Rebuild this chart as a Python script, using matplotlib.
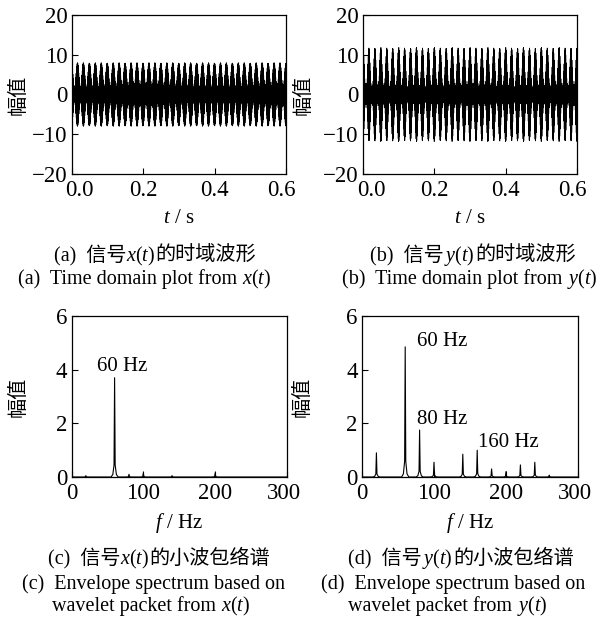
import numpy as np
import matplotlib
matplotlib.use('Agg')
import matplotlib.pyplot as plt
from matplotlib.offsetbox import TextArea, HPacker, AnnotationBbox
from matplotlib.transforms import ScaledTranslation

# 字体设置
plt.rcParams['font.family'] = ['Liberation Serif', 'Noto Sans CJK SC']
plt.rcParams['mathtext.fontset'] = 'custom'
plt.rcParams['mathtext.rm'] = 'Liberation Serif'
plt.rcParams['mathtext.it'] = 'Liberation Serif:italic'
plt.rcParams['font.size'] = 15
plt.rcParams['xtick.direction'] = 'in'
plt.rcParams['ytick.direction'] = 'in'

# 时域信号参数 (包络调制频率 / 幅值 / 尖锐度)
fs = 20000
t_end = 0.6
carrier_hz = 1100
x_base = 1.5
x_mod_hz = [60]
x_mod_amp = [6.5]
x_mod_pow = [1.0]
y_base = 1.8
y_mod_hz = [60, 20]
y_mod_amp = [9.8, 0.4]
y_mod_pow = [1.8, 1.0]

# 包络谱峰值 (频率 Hz, 幅值)
x_peak_hz = [20, 60, 80, 100, 140, 200]
x_peak_amp = [0.05, 3.7, 0.1, 0.15, 0.05, 0.15]
y_peak_hz = [20, 60, 80, 100, 140, 160, 180, 200, 220, 240, 260]
y_peak_amp = [0.9, 4.85, 1.75, 0.55, 0.85, 1.0, 0.3, 0.2, 0.45, 0.55, 0.07]

x_labels = [('60 Hz', 70, 4.1)]
y_labels = [('60 Hz', 111, 5.05), ('80 Hz', 111, 2.13), ('160 Hz', 203, 1.28)]

t = np.arange(0, t_end, 1 / fs)


def signal(base, mod_hz, mod_amp, mod_pow):
    env = np.full_like(t, base)
    for f, a, p in zip(mod_hz, mod_amp, mod_pow):
        env += a * ((1 + np.cos(2 * np.pi * f * t)) / 2) ** p
    return env * np.sin(2 * np.pi * carrier_hz * t)


def spectrum(peak_hz, peak_amp):
    fx, fy = [0], [0]
    for f, a in zip(peak_hz, peak_amp):
        fx += [f - 5, f - 2.5, f - 0.8, f, f + 0.8, f + 2.5, f + 5]
        fy += [0, a * 0.025, a * 0.12, a, a * 0.12, a * 0.025, 0]
    fx.append(300)
    fy.append(0)
    return fx, fy


fig = plt.figure(figsize=(6, 6.17), dpi=100)
W, H = 600, 617


def make_ax(l, top, r, bot):
    return fig.add_axes([l / W, 1 - bot / H, (r - l) / W, (bot - top) / H])


def nudge(label, dx_px):
    label.set_transform(label.get_transform() + ScaledTranslation(dx_px / 100, 0, fig.dpi_scale_trans))


ax_a = make_ax(71.5, 15, 286, 174)
ax_b = make_ax(363, 15, 577, 174)
ax_c = make_ax(71.5, 316, 287, 477)
ax_d = make_ax(362, 316, 578, 477)

ax_a.plot(t, signal(x_base, x_mod_hz, x_mod_amp, x_mod_pow), color='black', lw=0.6)
ax_b.plot(t, signal(y_base, y_mod_hz, y_mod_amp, y_mod_pow), color='black', lw=0.6)
for ax in (ax_a, ax_b):
    ax.set_xlim(0, 0.6)
    ax.set_ylim(-20, 20)
    ax.set_xticks([0, 0.2, 0.4, 0.6])
    ax.set_xticklabels(['0.0', '0.2', '0.4', '0.6'])
    ax.set_yticks([-20, -10, 0, 10, 20])
    ax.set_yticklabels(['\u221220', '\u221210', '0', '10', '20'])
    ax.set_xlabel('$t$ / s')
    ax.xaxis.set_label_coords(0.5, -0.22)

fx, fy = spectrum(x_peak_hz, x_peak_amp)
ax_c.plot(fx, fy, color='black', lw=0.8)
fx, fy = spectrum(y_peak_hz, y_peak_amp)
ax_d.plot(fx, fy, color='black', lw=0.8)
for ax, labels in ((ax_c, x_labels), (ax_d, y_labels)):
    ax.set_xlim(0, 300)
    ax.set_ylim(0, 6)
    ax.set_xticks([0, 100, 200, 300])
    ax.set_yticks([0, 2, 4, 6])
    ax.set_xlabel('$f$ / Hz')
    ax.xaxis.set_label_coords(0.5, -0.21)
    for s, xx, yy in labels:
        ax.text(xx, yy, s, ha='center', va='center', fontsize=15)

for ax in (ax_a, ax_b, ax_c, ax_d):
    ax.tick_params(top=False, right=False, length=4, width=0.8, labelsize=16.5)
    ax.tick_params(axis='x', pad=4)
    ax.tick_params(axis='y', pad=3)
    for sp in ax.spines.values():
        sp.set_linewidth(0.9)
    ax.set_ylabel('幅值', fontsize=14.5)

# 首末刻度标签略向内偏移
for ax in (ax_a, ax_b):
    labels = ax.get_xticklabels()
    nudge(labels[0], 8)
    nudge(labels[-1], -5)
for ax in (ax_c, ax_d):
    nudge(ax.get_xticklabels()[-1], -3)

ax_a.yaxis.set_label_coords(-0.2, 0.5)
ax_c.yaxis.set_label_coords(-0.2, 0.5)
ax_b.yaxis.set_label_coords(-0.23, 0.5)
ax_d.yaxis.set_label_coords(-0.23, 0.5)


def caption(parts, cx, cy):
    boxes = [TextArea(p, textprops=dict(fontsize=14.5)) for p in parts]
    pack = HPacker(children=boxes, align='baseline', pad=0, sep=0)
    ab = AnnotationBbox(pack, (cx / W, 1 - cy / H), xycoords='figure fraction',
                        frameon=False, box_alignment=(0.5, 0.5), pad=0)
    fig.add_artist(ab)


caption(['(a)  信号', '$x(t)$', '的时域波形'], 155, 256)
caption(['(a)  Time domain plot from ', '$x(t)$'], 145, 279)
caption(['(b)  信号', '$y(t)$', '的时域波形'], 473, 256)
caption(['(b)  Time domain plot from ', '$y(t)$'], 470, 279)
caption(['(c)  信号', '$x(t)$', '的小波包络谱'], 159, 559)
caption(['(c)  Envelope spectrum based on'], 154, 584)
caption(['wavelet packet from ', '$x(t)$'], 151, 606)
caption(['(d)  信号', '$y(t)$', '的小波包络谱'], 461, 559)
caption(['(d)  Envelope spectrum based on'], 453, 584)
caption(['wavelet packet from ', '$y(t)$'], 448, 606)

fig.savefig('out.png', dpi=100)
